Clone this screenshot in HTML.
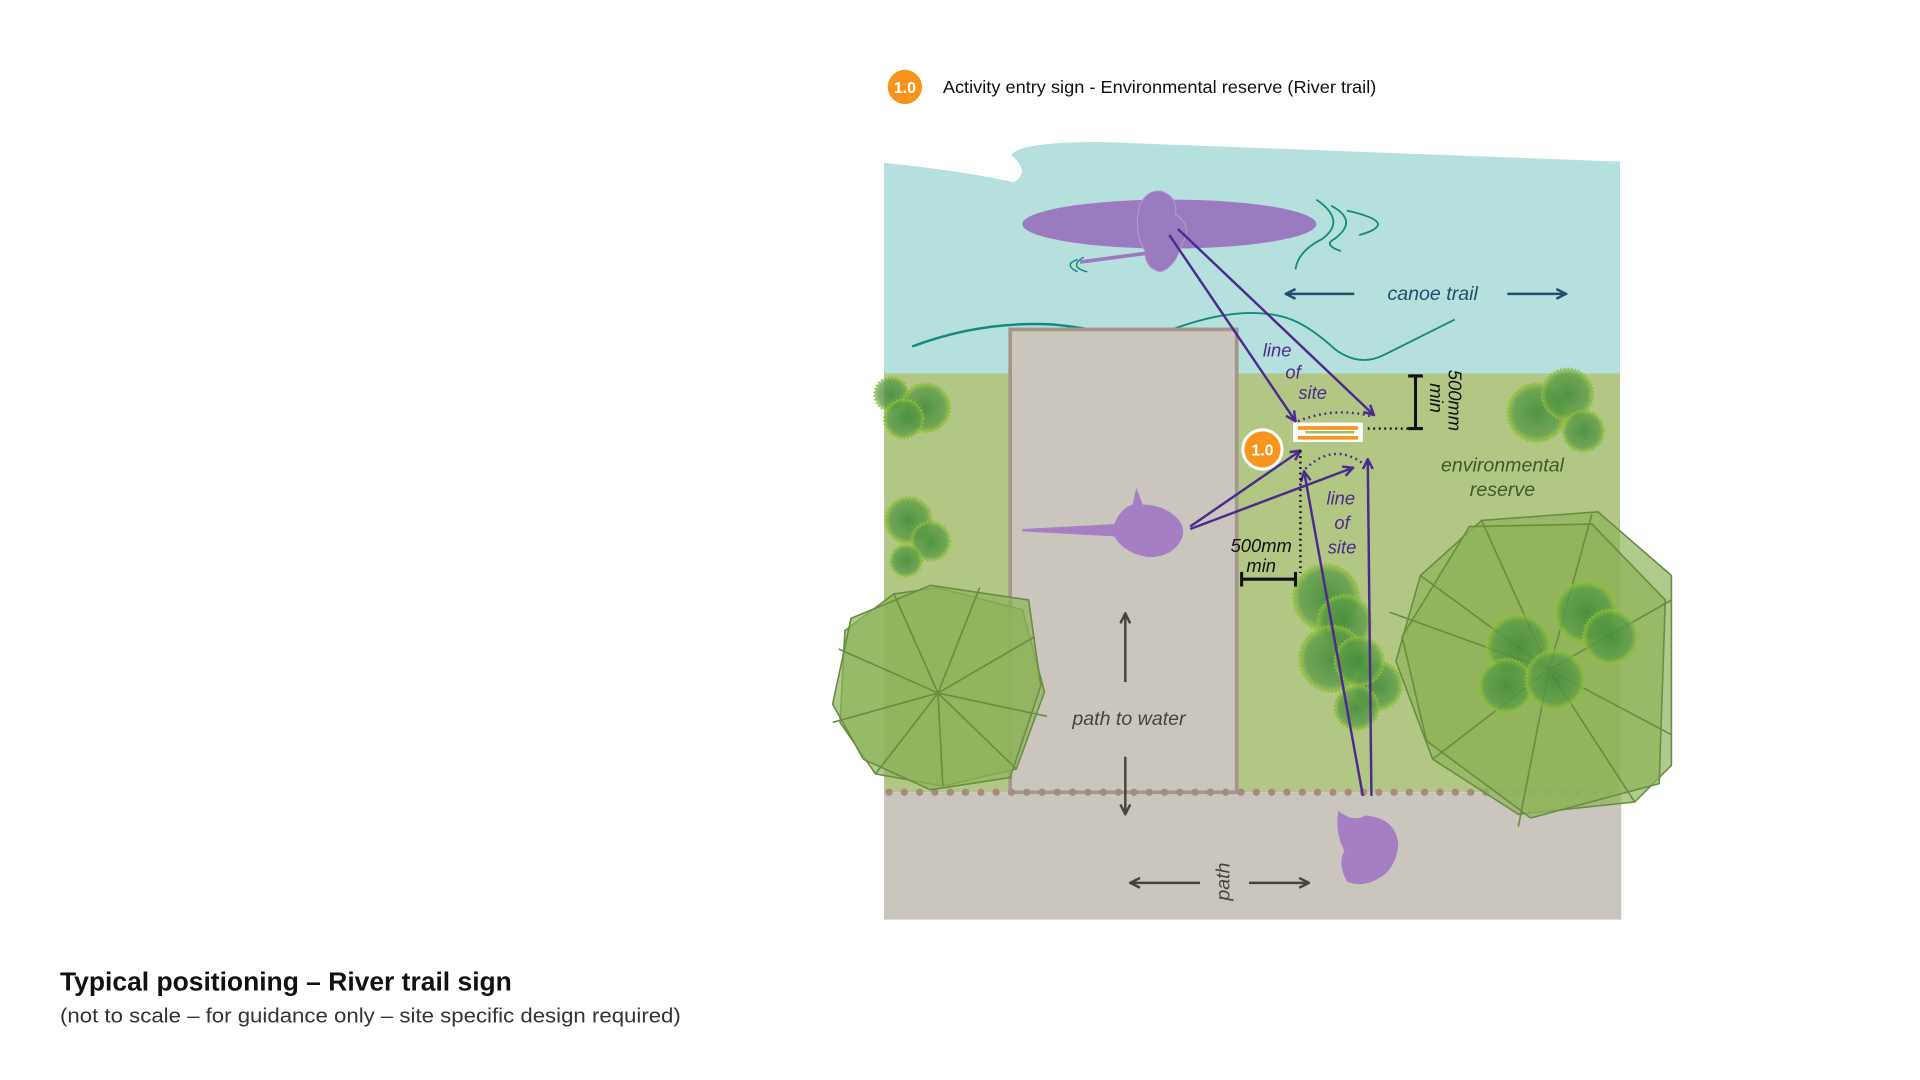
<!DOCTYPE html>
<html><head><meta charset="utf-8"><style>
html,body{margin:0;padding:0;background:#fff;width:1920px;height:1080px;overflow:hidden}
svg{display:block}
text{font-family:"Liberation Sans",Arial,sans-serif}
</style></head><body>
<svg width="1920" height="1080" viewBox="0 0 1568 882" xmlns="http://www.w3.org/2000/svg">
<defs>
<marker id="ap" viewBox="0 0 10 10" refX="9" refY="5" markerWidth="5" markerHeight="5" orient="auto-start-reverse"><path d="M1,1 L9,5 L1,9" fill="none" stroke="#4B2A8C" stroke-width="2"/></marker>
<marker id="ab" viewBox="0 0 10 10" refX="9" refY="5" markerWidth="5" markerHeight="5" orient="auto-start-reverse"><path d="M1,1 L9,5 L1,9" fill="none" stroke="#1F4F6A" stroke-width="2"/></marker>
<marker id="ag" viewBox="0 0 10 10" refX="9" refY="5" markerWidth="5" markerHeight="5" orient="auto-start-reverse"><path d="M1,1 L9,5 L1,9" fill="none" stroke="#4a4240" stroke-width="2"/></marker>
<radialGradient id="tg"><stop offset="0" stop-color="#3f8a3a" stop-opacity=".85"/><stop offset=".8" stop-color="#5a9a45" stop-opacity=".75"/><stop offset="1" stop-color="#8fbf3a" stop-opacity=".6"/></radialGradient>
</defs>
<circle cx="739" cy="71" r="14" fill="#F7941D"/>
<text x="739" y="76" font-size="13" fill="#fff" text-anchor="middle" font-weight="bold">1.0</text>
<text x="770" y="76" font-size="14" fill="#111" textLength="354" lengthAdjust="spacingAndGlyphs">Activity entry sign - Environmental reserve (River trail)</text>
<path d="M722,133 Q790,140 828,149 Q842,140 826,127 Q830,116 900,116 L1323,132 L1323,305 L722,305 Z" fill="#B6E0DE"/>
<rect x="722" y="305" width="601" height="342" fill="#B2C784"/>
<rect x="722" y="647" width="602" height="104" fill="#CBC6BD"/>
<path d="M745,283 Q800,262 860,265 Q890,268 900,272" fill="none" stroke="#14897F" stroke-width="2"/>
<path d="M960,268 Q1010,250 1045,258 Q1065,262 1090,285 Q1110,300 1130,290 L1188,261" fill="none" stroke="#14897F" stroke-width="1.5"/>
<path d="M1075,163 Q1100,180 1080,195 Q1060,205 1058,220 M1087,168 Q1110,180 1090,195 Q1080,200 1095,205 M1100,172 Q1145,182 1110,192" fill="none" stroke="#14897F" stroke-width="1.5"/>
<path d="M880,212 Q868,216 880,222 M885,210 Q872,218 888,222" fill="none" stroke="#14897F" stroke-width="1.2"/>
<rect x="825" y="269" width="185" height="378" fill="#CBC6BD" stroke="#A3968A" stroke-width="3"/>
<line x1="726" y1="647" x2="1323" y2="647" stroke="#A58C80" stroke-width="6" stroke-linecap="round" stroke-dasharray="0 12.5"/>
<g fill="url(#tg)" stroke="#8fbf3a" stroke-width="2" stroke-dasharray="1 2">
<circle cx="728" cy="322" r="14"/><circle cx="756" cy="333" r="20"/><circle cx="738" cy="342" r="16"/>
<circle cx="742" cy="425" r="19"/><circle cx="760" cy="442" r="16"/><circle cx="740" cy="458" r="13"/>
<circle cx="1255" cy="337" r="24"/><circle cx="1280" cy="322" r="21"/><circle cx="1293" cy="352" r="17"/>
<circle cx="1083" cy="488" r="27"/><circle cx="1098" cy="508" r="22"/><circle cx="1088" cy="538" r="27"/><circle cx="1125" cy="560" r="20"/><circle cx="1108" cy="578" r="18"/><circle cx="1110" cy="540" r="20"/>
</g>
<g stroke="#6A8C43" stroke-width="1.3" fill="#8DB35A" fill-opacity=".7">
<polygon points="766,480 835,498 853,565 830,628 770,642 715,632 686,590 690,515 730,485"/>
<polygon points="760,478 840,490 850,560 825,635 760,645 705,620 680,575 695,505"/>
<path d="M766,566 L730,485 M766,566 L800,480 M766,566 L845,520 M766,566 L855,585 M766,566 L830,628 M766,566 L770,642 M766,566 L715,632 M766,566 L680,590 M766,566 L685,530" fill="none"/>
<polygon points="1210,425 1305,418 1365,470 1365,625 1335,655 1240,665 1170,620 1140,540 1160,470"/>
<polygon points="1200,430 1300,428 1360,490 1355,640 1250,668 1165,605 1145,520"/>
<path d="M1265,547 L1210,425 M1265,547 L1300,420 M1265,547 L1365,490 M1265,547 L1365,600 M1265,547 L1335,655 M1265,547 L1240,675 M1265,547 L1170,620 M1265,547 L1135,500 M1265,547 L1160,470" fill="none"/>
</g>
<g fill="url(#tg)" stroke="#8fbf3a" stroke-width="2" stroke-dasharray="1 2">
<circle cx="1240" cy="528" r="26"/><circle cx="1295" cy="500" r="25"/><circle cx="1315" cy="520" r="22"/><circle cx="1230" cy="560" r="22"/><circle cx="1270" cy="555" r="24"/>
</g>
<ellipse cx="955" cy="183" rx="120" ry="20" fill="#9B7BBF"/>
<path d="M930,170 Q935,155 948,156 Q962,160 960,175 Q975,185 965,200 Q960,218 948,222 Q935,220 935,205 Q926,190 930,170Z" fill="#9B7BBF" stroke="#b49ad0" stroke-width="0.8"/>
<line x1="882" y1="214" x2="950" y2="205" stroke="#9B7BBF" stroke-width="3"/>
<path d="M835,432 L910,428 Q915,415 925,412 L928,398 L933,412 Q945,412 955,418 Q970,428 965,440 Q958,455 938,455 Q918,452 910,438 L835,434Z" fill="#A57EC4"/>
<path d="M1093,662 Q1105,672 1115,666 Q1140,668 1142,690 Q1140,710 1125,718 Q1112,725 1100,720 Q1092,705 1098,695 Q1090,680 1093,662Z" fill="#A57EC4"/>
<g stroke="#4B2A8C" stroke-width="2" fill="none">
<line x1="955" y1="192" x2="1058" y2="344" marker-end="url(#ap)"/>
<line x1="962" y1="187" x2="1122" y2="339" marker-end="url(#ap)"/>
<line x1="972" y1="430" x2="1062" y2="368" marker-end="url(#ap)"/>
<line x1="972" y1="432" x2="1105" y2="382" marker-end="url(#ap)"/>
<line x1="1113" y1="650" x2="1065" y2="385" marker-end="url(#ap)"/>
<line x1="1120" y1="650" x2="1117" y2="375" marker-end="url(#ap)"/>
</g>
<path d="M1060,344 Q1090,332 1120,340" fill="none" stroke="#4B2A8C" stroke-width="2" stroke-dasharray="1.5 3"/>
<path d="M1066,383 Q1090,360 1115,380" fill="none" stroke="#4B2A8C" stroke-width="2" stroke-dasharray="1.5 3"/>
<rect x="1056" y="345" width="57" height="16" fill="#fff"/>
<rect x="1060" y="348" width="49" height="3" fill="#F7941D"/>
<rect x="1060" y="356" width="49" height="3" fill="#F7941D"/>
<rect x="1066" y="352" width="40" height="2" fill="#9BBE6A"/>
<circle cx="1031" cy="367" r="16" fill="#F7941D" stroke="#fff" stroke-width="2.5"/>
<text x="1031" y="372" font-size="13" fill="#fff" text-anchor="middle" font-weight="bold">1.0</text>
<line x1="1117" y1="350" x2="1152" y2="350" stroke="#111" stroke-width="2" stroke-dasharray="1.5 3"/>
<path d="M1150,307 L1162,307 M1156,307 L1156,350 M1150,350 L1162,350" stroke="#111" stroke-width="2.5" fill="none"/>
<line x1="1062" y1="368" x2="1062" y2="468" stroke="#111" stroke-width="2" stroke-dasharray="1.5 3"/>
<path d="M1014,467 L1014,479 M1014,473 L1058,473 M1058,467 L1058,479" stroke="#111" stroke-width="2.5" fill="none"/>
<text transform="translate(1183,302) rotate(90)" font-size="15" font-style="italic" fill="#111">500mm</text>
<text transform="translate(1168,313) rotate(90)" font-size="15" font-style="italic" fill="#111">min</text>
<text x="1030" y="451" font-size="15" font-style="italic" fill="#111" text-anchor="middle">500mm</text>
<text x="1030" y="467" font-size="15" font-style="italic" fill="#111" text-anchor="middle">min</text>
<g font-size="15" font-style="italic" fill="#4B2A8C" text-anchor="middle">
<text x="1043" y="291">line</text><text x="1056" y="309">of</text><text x="1072" y="326">site</text>
<text x="1095" y="412">line</text><text x="1096" y="432">of</text><text x="1096" y="452">site</text>
</g>
<text x="1227" y="385" font-size="16" font-style="italic" fill="#3E5A2A" text-anchor="middle">environmental</text>
<text x="1227" y="405" font-size="16" font-style="italic" fill="#3E5A2A" text-anchor="middle">reserve</text>
<text x="1170" y="245" font-size="16" font-style="italic" fill="#1F4F6A" text-anchor="middle">canoe trail</text>
<line x1="1106" y1="240" x2="1050" y2="240" stroke="#1F4F6A" stroke-width="2" marker-end="url(#ab)"/>
<line x1="1231" y1="240" x2="1279" y2="240" stroke="#1F4F6A" stroke-width="2" marker-end="url(#ab)"/>
<text x="922" y="592" font-size="16" font-style="italic" fill="#4a4240" text-anchor="middle">path to water</text>
<line x1="919" y1="557" x2="919" y2="501" stroke="#4a4240" stroke-width="2" marker-end="url(#ag)"/>
<line x1="919" y1="618" x2="919" y2="665" stroke="#4a4240" stroke-width="2" marker-end="url(#ag)"/>
<text transform="translate(1004,720) rotate(-90)" font-size="16" font-style="italic" fill="#4a4240" text-anchor="middle">path</text>
<line x1="980" y1="721" x2="923" y2="721" stroke="#4a4240" stroke-width="2" marker-end="url(#ag)"/>
<line x1="1020" y1="721" x2="1069" y2="721" stroke="#4a4240" stroke-width="2" marker-end="url(#ag)"/>
<text x="49" y="809" font-size="21" font-weight="bold" fill="#111" textLength="369" lengthAdjust="spacingAndGlyphs">Typical positioning – River trail sign</text>
<text x="49" y="835" font-size="16.5" fill="#333" textLength="507" lengthAdjust="spacingAndGlyphs">(not to scale – for guidance only – site specific design required)</text>
</svg>
</body></html>
